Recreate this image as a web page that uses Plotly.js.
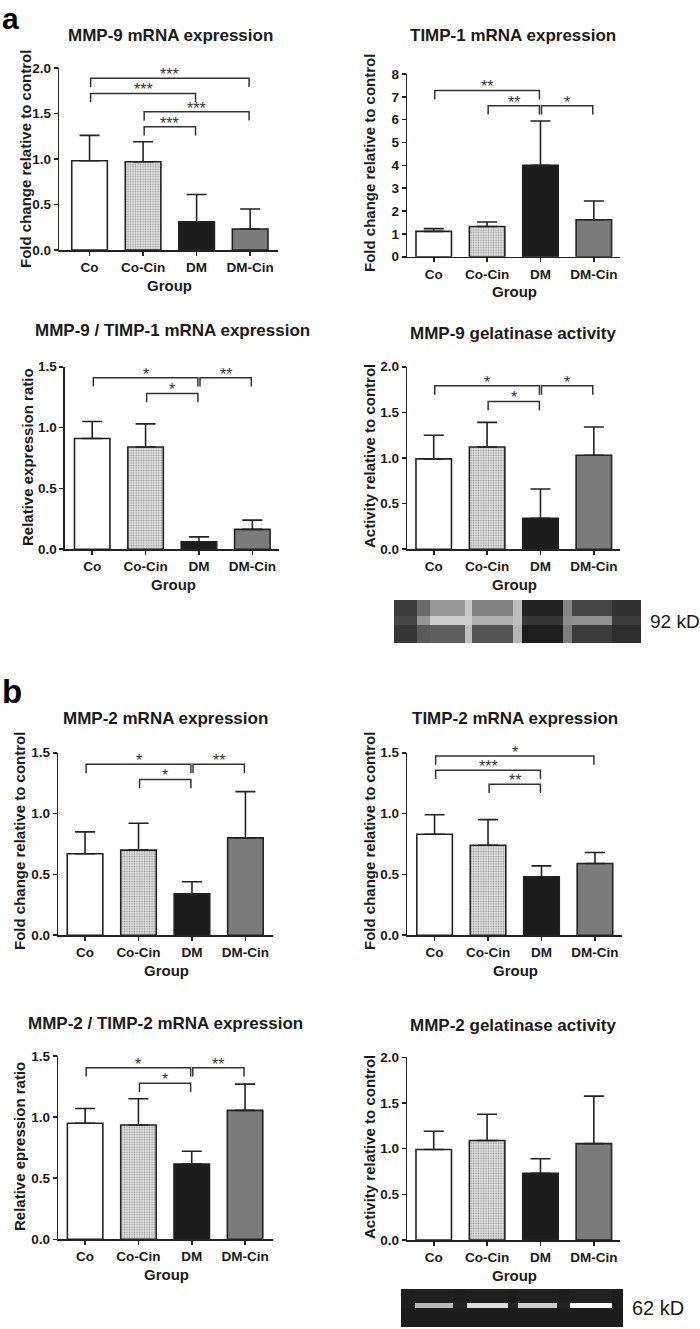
<!DOCTYPE html>
<html>
<head>
<meta charset="utf-8">
<script src="https://cdn.plot.ly/plotly-3.0.1.min.js"></script>
<style>html,body{margin:0;padding:0;background:#fff;}#chart{width:700px;height:1329px;}</style>
</head>
<body>
<div id="chart"></div>
<script>
// ---------------- DATA ----------------
const groups = ['Co', 'Co-Cin', 'DM', 'DM-Cin'];

const mmp9Mean = [0.98, 0.97, 0.31, 0.23];
const mmp9SD   = [0.28, 0.22, 0.30, 0.22];
const timp1Mean = [1.11, 1.32, 4.00, 1.62];
const timp1SD   = [0.12, 0.20, 1.94, 0.82];
const ratio9Mean = [0.91, 0.84, 0.062, 0.164];
const ratio9SD   = [0.14, 0.19, 0.040, 0.076];
const mmp9ActMean = [0.99, 1.12, 0.34, 1.03];
const mmp9ActSD   = [0.26, 0.27, 0.32, 0.31];
const mmp2Mean = [0.67, 0.70, 0.34, 0.80];
const mmp2SD   = [0.18, 0.22, 0.10, 0.38];
const timp2Mean = [0.83, 0.74, 0.48, 0.59];
const timp2SD   = [0.16, 0.21, 0.09, 0.09];
const ratio2Mean = [0.95, 0.935, 0.616, 1.055];
const ratio2SD   = [0.12, 0.215, 0.104, 0.215];
const mmp2ActMean = [0.99, 1.09, 0.73, 1.055];
const mmp2ActSD   = [0.20, 0.287, 0.16, 0.52];

// significance brackets: [from group, to group, level]
const mmp9Brackets  = [[0, 3, 1.887], [0, 2, 1.72], [1, 3, 1.52], [1, 2, 1.355]];
const mmp9Stars     = ['***', '***', '***', '***'];
const timp1Brackets = [[0, 2, 7.28], [1, 2, 6.61], [2, 3, 6.61]];
const timp1Stars    = ['**', '**', '*'];
const ratio9Brackets = [[0, 2, 1.409], [1, 2, 1.28], [2, 3, 1.409]];
const ratio9Stars    = ['*', '*', '**'];
const mmp9ActBrackets = [[0, 2, 1.79], [1, 2, 1.62], [2, 3, 1.79]];
const mmp9ActStars    = ['*', '*', '*'];
const mmp2Brackets = [[0, 2, 1.406], [1, 2, 1.28], [2, 3, 1.406]];
const mmp2Stars    = ['*', '*', '**'];
const timp2Brackets = [[0, 3, 1.472], [0, 2, 1.355], [1, 2, 1.24]];
const timp2Stars    = ['*', '***', '**'];
const ratio2Brackets = [[0, 2, 1.404], [1, 2, 1.277], [2, 3, 1.404]];
const ratio2Stars    = ['*', '*', '**'];

// gel zymogram grey levels (rows: above band, band, below band)
const gel92Cols = [0, 23, 36, 71, 78, 119, 128, 169, 178, 218, 247];
const gel92Rows = [0, 16, 25, 43];
const gel92Z = [
  [60, 105, 150, 200, 130, 190, 35, 135, 70, 50],
  [70, 150, 205, 205, 175, 190, 55, 140, 145, 60],
  [55, 90, 95, 190, 85, 180, 30, 125, 60, 45]
];
const gel62Cols = [0, 14, 52, 66, 107, 117, 156, 169, 211, 222];
const gel62Rows = [0, 14, 19, 38];
const gel62Z = [
  [30, 32, 30, 32, 30, 32, 30, 34, 30],
  [30, 185, 35, 220, 35, 205, 35, 250, 30],
  [28, 28, 28, 28, 28, 28, 28, 28, 28]
];

// ---------------- LAYOUT / STYLE ----------------
const W = 700, H = 1329;
const px = x => x / W;
const py = y => 1 - y / H;
const FONT = 'Liberation Sans, Arial, Helvetica, sans-serif';
const INK = '#1a1a1a';
const barColors = ['#ffffff', '#e2e2e2', '#1c1c1c', '#7b7b7b'];

const panels = [
  {mean: mmp9Mean, sd: mmp9SD, br: mmp9Brackets, st: mmp9Stars, title: 'MMP-9 mRNA expression',
   ytitle: 'Fold change relative to control', box: [59.3, 278, 68, 250], xr: [-0.565, 3.52], ymax: 2, dtick: 0.5, fmt: '.1f',
   tpos: [170, 35], ypos: [25, 159]},
  {mean: timp1Mean, sd: timp1SD, br: timp1Brackets, st: timp1Stars, title: 'TIMP-1 mRNA expression',
   ytitle: 'Fold change relative to control', box: [407.3, 620, 74, 256.7], xr: [-0.495, 3.49], ymax: 8, dtick: 1, fmt: 'd',
   tpos: [513, 35], ypos: [370, 163]},
  {mean: ratio9Mean, sd: ratio9SD, br: ratio9Brackets, st: ratio9Stars, title: 'MMP-9 / TIMP-1 mRNA expression',
   ytitle: 'Relative expression ratio', box: [65, 279, 366.7, 549.3], xr: [-0.51, 3.5], ymax: 1.5, dtick: 0.5, fmt: '.1f',
   tpos: [172, 331], ypos: [27, 457]},
  {mean: mmp9ActMean, sd: mmp9ActSD, br: mmp9ActBrackets, st: mmp9ActStars, title: 'MMP-9 gelatinase activity',
   ytitle: 'Activity relative to control', box: [407.3, 620, 366.7, 549.3], xr: [-0.495, 3.49], ymax: 2, dtick: 0.5, fmt: '.1f',
   tpos: [513, 333], ypos: [369, 456]},
  {mean: mmp2Mean, sd: mmp2SD, br: mmp2Brackets, st: mmp2Stars, title: 'MMP-2 mRNA expression',
   ytitle: 'Fold change relative to control', box: [58.3, 272.7, 752.7, 935.3], xr: [-0.5, 3.51], ymax: 1.5, dtick: 0.5, fmt: '.1f',
   tpos: [165, 719], ypos: [19, 841]},
  {mean: timp2Mean, sd: timp2SD, br: timp2Brackets, st: timp2Stars, title: 'TIMP-2 mRNA expression',
   ytitle: 'Fold change relative to control', box: [407.3, 621.7, 752.7, 935.3], xr: [-0.51, 3.5], ymax: 1.5, dtick: 0.5, fmt: '.1f',
   tpos: [515, 719], ypos: [369, 841]},
  {mean: ratio2Mean, sd: ratio2SD, br: ratio2Brackets, st: ratio2Stars, title: 'MMP-2 / TIMP-2 mRNA expression',
   ytitle: 'Relative epression ratio', box: [58.3, 273.3, 1056, 1239.3], xr: [-0.503, 3.53], ymax: 1.5, dtick: 0.5, fmt: '.1f',
   tpos: [165, 1023], ypos: [19, 1147]},
  {mean: mmp2ActMean, sd: mmp2ActSD, br: [], st: [], title: 'MMP-2 gelatinase activity',
   ytitle: 'Activity relative to control', box: [407.3, 620, 1057.3, 1240], xr: [-0.495, 3.49], ymax: 2, dtick: 0.5, fmt: '.1f',
   tpos: [513, 1025], ypos: [369, 1147]}
];

const traces = [];
const layout = {
  width: W, height: H,
  margin: {l: 0, r: 0, t: 0, b: 0},
  paper_bgcolor: '#ffffff', plot_bgcolor: 'rgba(0,0,0,0)',
  showlegend: false,
  font: {family: FONT, color: INK},
  annotations: [],
  hovermode: false
};

const xIdx = groups.map((g, i) => i);

panels.forEach((p, k) => {
  const n = k + 1;
  const xa = 'x' + (n === 1 ? '' : n), ya = 'y' + (n === 1 ? '' : n);
  const xk = 'xaxis' + (n === 1 ? '' : n), yk = 'yaxis' + (n === 1 ? '' : n);
  const [x0, x1, y0, y1] = p.box;

  traces.push({
    type: 'bar', x: xIdx, y: p.mean, xaxis: xa, yaxis: ya, width: 0.665,
    marker: {
      color: barColors,
      line: {color: '#222222', width: 1.6},
      pattern: {shape: ['', '.', '', ''], fillmode: 'overlay', fgcolor: '#a6a6a6', size: 2.5, solidity: 0.3}
    },
    error_y: {type: 'data', symmetric: false, array: p.sd, arrayminus: p.sd.map(() => 0),
              color: '#222222', thickness: 1.6, width: 10},
    cliponaxis: false, hoverinfo: 'skip'
  });

  const drop = 0.048 * p.ymax;
  p.br.forEach((b, j) => {
    const xa0 = b[0] + 0.02, xa1 = b[1] - 0.02;
    traces.push({
      type: 'scatter', mode: 'lines', xaxis: xa, yaxis: ya,
      x: [xa0, xa0, xa1, xa1], y: [b[2] - drop, b[2], b[2], b[2] - drop],
      line: {color: '#333333', width: 1.5}, cliponaxis: false, hoverinfo: 'skip'
    });
    layout.annotations.push({
      xref: xa, yref: ya, x: (b[0] + b[1]) / 2, y: b[2], text: p.st[j],
      showarrow: false, xanchor: 'center', yanchor: 'bottom', yshift: -7,
      font: {family: FONT, size: 16, color: '#333333'}
    });
  });

  layout[xk] = {
    domain: [px(x0), px(x1)], anchor: ya, range: p.xr, type: 'linear',
    tickvals: xIdx, ticktext: groups, showgrid: false, zeroline: false,
    showline: true, linecolor: '#222222', linewidth: 1.6,
    ticks: 'outside', ticklen: 4, tickwidth: 1.6, tickcolor: '#222222',
    tickfont: {family: FONT, size: 13.5, weight: 'bold', color: INK}, fixedrange: true
  };
  layout[yk] = {
    domain: [py(y1), py(y0)], anchor: xa, range: [0, p.ymax], type: 'linear',
    dtick: p.dtick, tick0: 0, tickformat: p.fmt, showgrid: false, zeroline: false,
    showline: true, linecolor: '#222222', linewidth: 1.6,
    ticks: 'outside', ticklen: 4, tickwidth: 1.6, tickcolor: '#222222',
    tickfont: {family: FONT, size: 13.5, weight: 'bold', color: INK}, fixedrange: true
  };

  // panel title
  layout.annotations.push({
    xref: 'paper', yref: 'paper', x: px(p.tpos[0]), y: py(p.tpos[1]), text: p.title,
    showarrow: false, xanchor: 'center', yanchor: 'middle',
    font: {family: FONT, size: 17, weight: 'bold', color: INK}
  });
  // y axis title
  layout.annotations.push({
    xref: 'paper', yref: 'paper', x: px(p.ypos[0]), y: py(p.ypos[1]), text: p.ytitle,
    showarrow: false, xanchor: 'center', yanchor: 'middle', textangle: -90,
    font: {family: FONT, size: 15, weight: 'bold', color: INK}
  });
  // x axis title
  layout.annotations.push({
    xref: 'paper', yref: 'paper', x: px((x0 + x1) / 2 + 1), y: py(y1 + 35), text: 'Group',
    showarrow: false, xanchor: 'center', yanchor: 'middle',
    font: {family: FONT, size: 15, weight: 'bold', color: INK}
  });
});

// gel images as heatmaps
function gel(n, cols, rows, z, box) {
  traces.push({
    type: 'heatmap', x: cols, y: rows, z: z, xaxis: 'x' + n, yaxis: 'y' + n,
    colorscale: [[0, '#000000'], [1, '#ffffff']], zmin: 0, zmax: 255,
    showscale: false, hoverinfo: 'skip', zsmooth: false
  });
  layout['xaxis' + n] = {domain: [px(box[0]), px(box[1])], anchor: 'y' + n, range: [cols[0], cols[cols.length - 1]],
    visible: false, fixedrange: true};
  layout['yaxis' + n] = {domain: [py(box[3]), py(box[2])], anchor: 'x' + n, range: [rows[rows.length - 1], rows[0]],
    visible: false, fixedrange: true};
}
gel(9, gel92Cols, gel92Rows, gel92Z, [394, 641, 600, 643]);
gel(10, gel62Cols, gel62Rows, gel62Z, [401, 623, 1289, 1327]);

layout.annotations.push(
  {xref: 'paper', yref: 'paper', x: px(648), y: py(622), text: '92 kD', showarrow: false,
   xanchor: 'left', yanchor: 'middle', font: {family: FONT, size: 19, color: INK}},
  {xref: 'paper', yref: 'paper', x: px(630), y: py(1308), text: '62 kD', showarrow: false,
   xanchor: 'left', yanchor: 'middle', font: {family: FONT, size: 20, color: INK}},
  {xref: 'paper', yref: 'paper', x: px(0), y: py(0), text: 'a', showarrow: false,
   xanchor: 'left', yanchor: 'top', font: {family: FONT, size: 30, weight: 'bold', color: '#000'}},
  {xref: 'paper', yref: 'paper', x: px(0), y: py(691), text: 'b', showarrow: false,
   xanchor: 'left', yanchor: 'middle', font: {family: FONT, size: 33, weight: 'bold', color: '#000'}}
);

Plotly.newPlot('chart', traces, layout, {staticPlot: true, displayModeBar: false});
</script>
</body>
</html>
